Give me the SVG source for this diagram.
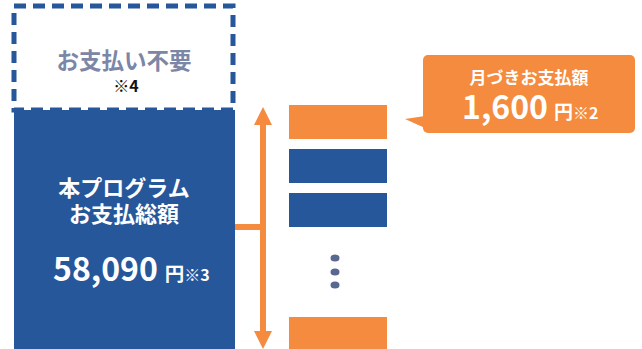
<svg xmlns="http://www.w3.org/2000/svg" width="642" height="349" viewBox="0 0 642 349">
<style>
text{font-family:"Noto Sans CJK JP","Noto Sans",sans-serif;font-weight:bold}
.w{fill:#ffffff}
.blue{fill:#25579a}
.org{fill:#f58b3e}
</style>
<rect width="642" height="349" fill="#ffffff"/>
<g id="unpaid">
<rect x="14" y="6" width="219" height="104" fill="none" stroke="#25579a" stroke-width="5" stroke-dasharray="12 7"/>
<text x="124" y="69" font-size="22.5" fill="#7c86a6" text-anchor="middle">お支払い不要</text>
<text x="126" y="92" font-size="16" fill="#111111" text-anchor="middle">※4</text>
</g>
<g id="total">
<rect x="14" y="110" width="221" height="239" class="blue"/>
<text x="124" y="196" font-size="22" class="w" text-anchor="middle">本プログラム</text>
<text x="124" y="222" font-size="22" class="w" text-anchor="middle">お支払総額</text>
<text x="53" y="281" font-size="32" class="w">58,090<tspan font-size="19.5" dx="7">円</tspan><tspan font-size="16">※3</tspan></text>
</g>
<g id="connectors">
<line x1="263" y1="125" x2="263" y2="331" stroke="#f58b3e" stroke-width="6"/>
<path d="M254,125 L263,107 L272,125 Z" fill="#f58b3e"/>
<path d="M254,331 L263,349 L272,331 Z" fill="#f58b3e"/>
<line x1="235" y1="227" x2="266" y2="227" stroke="#f58b3e" stroke-width="6"/>
</g>
<g id="bars">
<rect x="289" y="105" width="98" height="34" class="org"/>
<rect x="289" y="149" width="98" height="34" class="blue"/>
<rect x="289" y="193" width="98" height="34" class="blue"/>
<ellipse cx="335" cy="258" rx="4.5" ry="3.5" fill="#5a6790"/>
<ellipse cx="335" cy="272" rx="4.5" ry="3.5" fill="#5a6790"/>
<ellipse cx="335" cy="285" rx="4.5" ry="3.5" fill="#5a6790"/>
<rect x="289" y="317" width="98" height="32" class="org"/>
</g>
<g id="callout">
<rect x="423" y="55" width="212" height="78" rx="5" class="org"/>
<path d="M405,119 L425,116 L425,128 Z" class="org"/>
<text x="529" y="84" font-size="17" class="w" text-anchor="middle">月づきお支払額</text>
<text x="462" y="119" font-size="32" class="w">1,600<tspan font-size="19" dx="6">円</tspan><tspan font-size="16">※2</tspan></text>
</g>
</svg>
